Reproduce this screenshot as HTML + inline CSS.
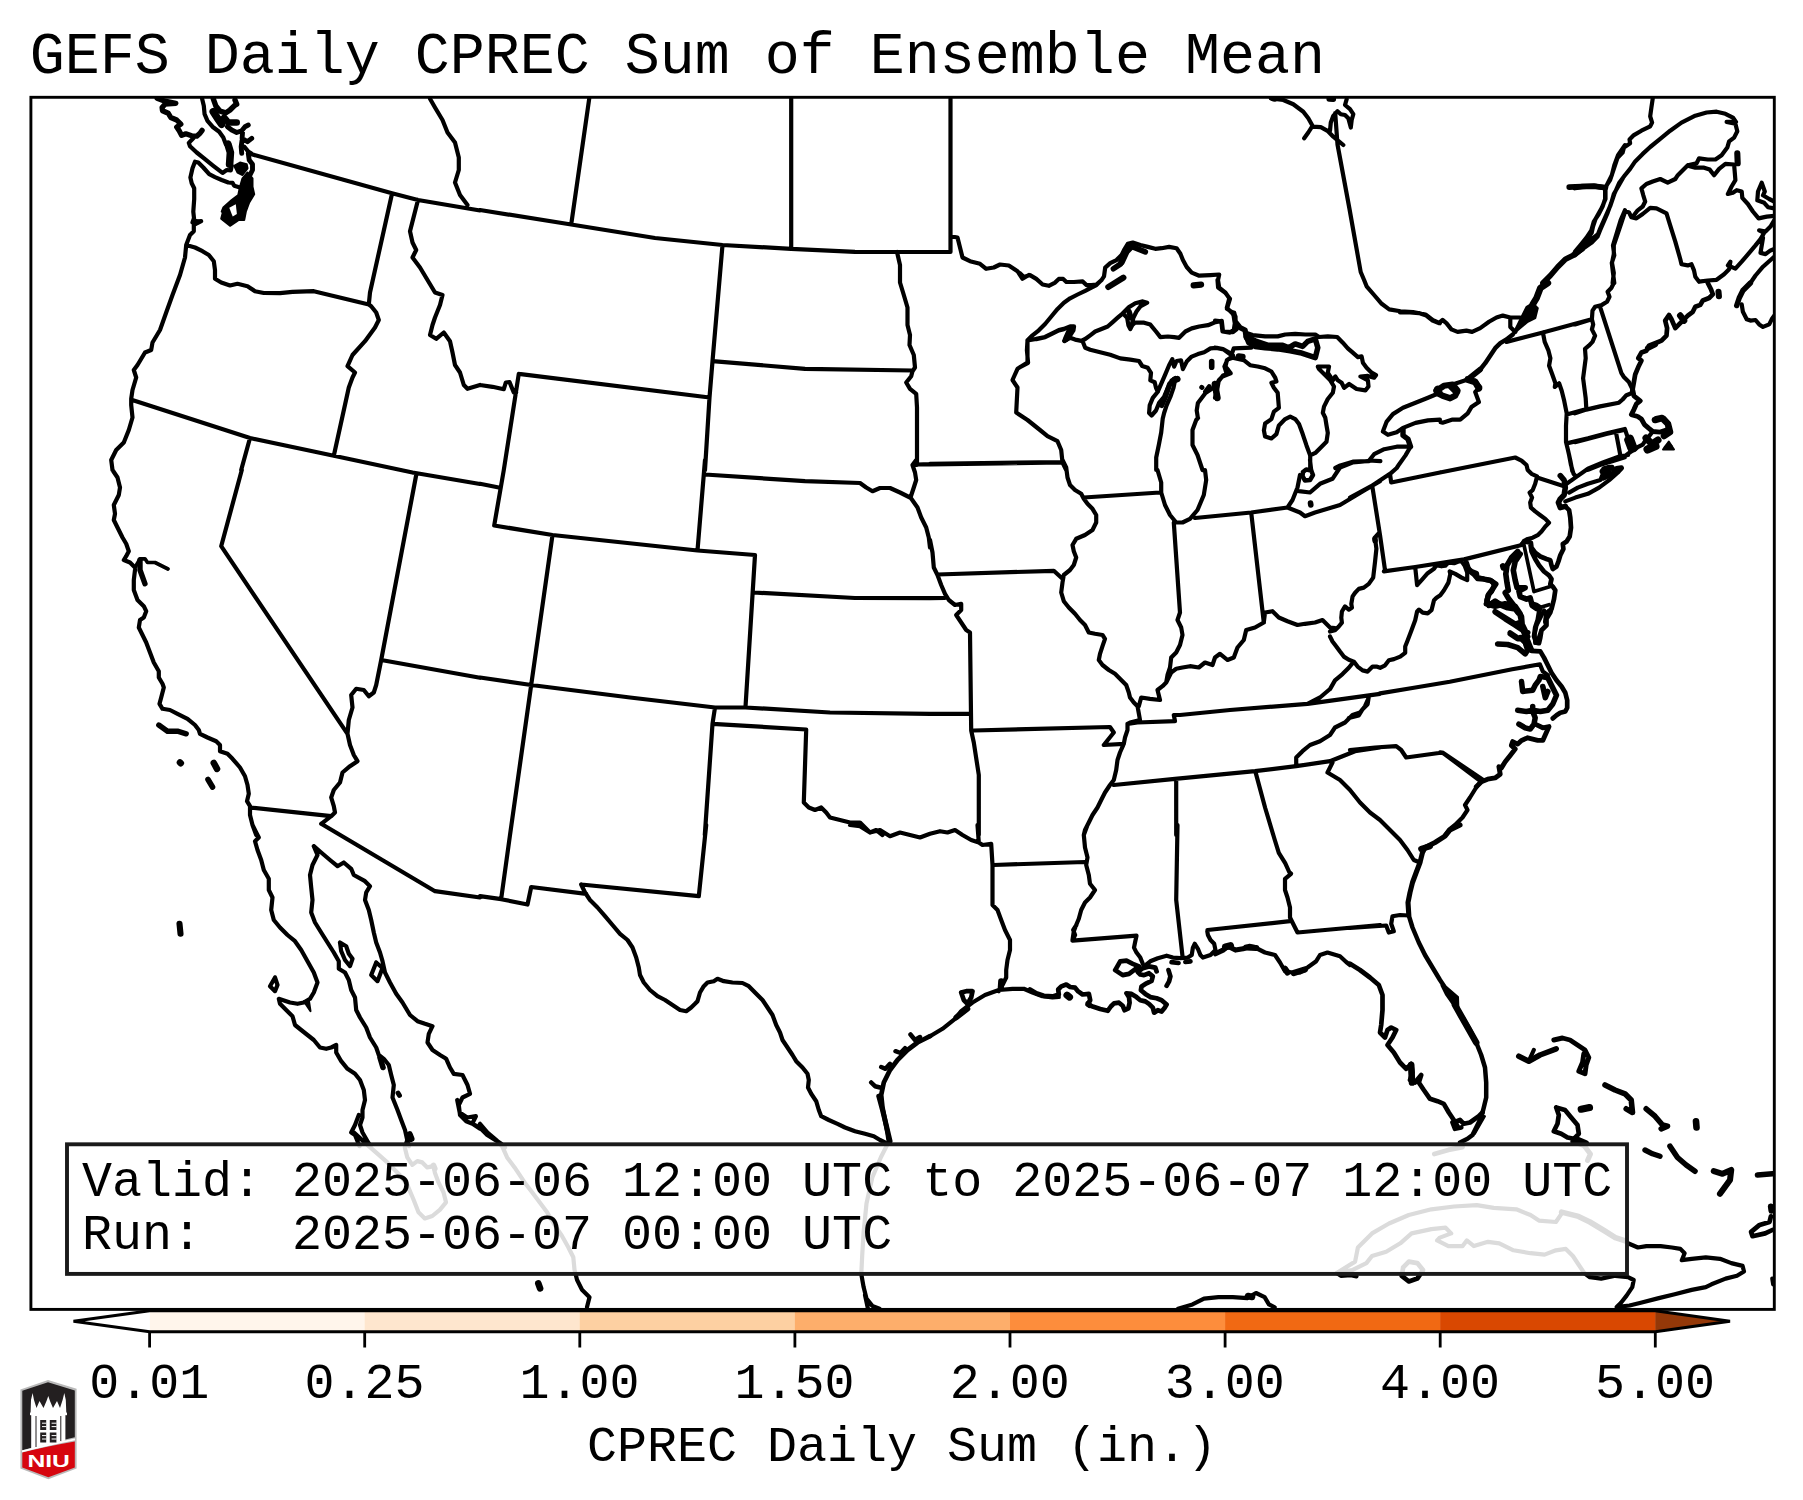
<!DOCTYPE html>
<html><head><meta charset="utf-8"><title>GEFS Daily CPREC Sum of Ensemble Mean</title>
<style>
html,body{margin:0;padding:0;background:#fff;}
body{width:1803px;height:1500px;overflow:hidden;}
svg{display:block}
text{font-family:"Liberation Mono","DejaVu Sans Mono",monospace;fill:#000}
.m{fill:none;stroke:#000;stroke-width:3;stroke-linejoin:round;stroke-linecap:round}
.f{fill:#000;stroke:#000;stroke-width:2;stroke-linejoin:round}
</style></head><body>
<svg width="1803" height="1500" viewBox="0 0 1803 1500">
<rect width="1803" height="1500" fill="#fff"/>
<text x="29.8" y="72.8" font-size="58.33">GEFS Daily CPREC Sum of Ensemble Mean</text>
<defs><clipPath id="mc"><rect x="30" y="97" width="1745" height="1212"/></clipPath></defs>
<g clip-path="url(#mc)">
<path class="f" d="M234.2 165.8L240 162.5L246.7 164.2L247.5 168.3L242.5 175L237.5 172.5Z"/>
<path class="f" d="M247.5 172.5L252.5 178.3L252.5 186.7L254.2 194.2L249.2 202.5L245.8 211.7L244.2 220L223.3 220L228.3 215L221.7 211.7L223.3 207.5L231.7 200L238.3 195L240 186.7L242.5 178.3Z"/>
<path class="f" d="M193 219.5L202 221L193.8 225.5Z"/>
<path class="f" d="M223.8 208.8L221.2 218.8L230 225.8L238.8 220L245 212.5L242.5 195Z"/>
<path class="f" d="M1664.6 447.2L1671.5 445.9L1668.4 443.4Z"/>
<path class="f" d="M1526.6 306.8L1532.8 303.1L1537.8 308.1L1535.3 318.1L1527.8 321.8L1520.3 328.1L1512.8 334.4L1517.8 324.4L1521.6 316.8Z"/>
<path class="f" d="M1663 449.5L1668.8 441.5L1674 449.5Z"/>
<path class="f" d="M303.8 1001.2L308.8 1000L310.5 1011.2Z"/>
<path class="f" d="M1441.5 985.5L1447 987.5L1458 997L1458.5 1011.2L1452.5 1003.8L1446.2 995Z"/>
<path class="f" d="M1480 1115L1485 1116.2L1475 1133.8Z"/>
<path class="m" style="stroke-width:3.7" d="M135 567.5L140 558.8L145 558.8L147.5 562.5L155 562.5L165 567.5L168 569M1524 545.2L1534 591.6L1550.3 586.6M1536.5 608.5L1549 604.7"/>
<path class="m" style="stroke-width:4.2" d="M193.3 138.3L188.8 142.9L190 146.2L196.7 152.5L205 159.2L213.3 165.8L222.5 172.9L226.7 170L230.8 170.4L231.7 165.8M202.1 98.8L203.8 105.8L204.6 114.2L207.5 120.8L212.5 126.7L219.2 131.7L223.3 137.5L225.8 144.2M244.2 146.7L248.3 151.7L251.2 153.3M195 161.7L198.3 162.5L203.3 167.5L209.2 174.2L215 177.1L221.7 180L228.3 182.5L232.5 182.9L234.2 185.8L240 187.5M195 161.7L192.5 168.3L190.4 177.5L191.7 183.3L194.2 188.3L194.2 199.2L193.3 211.7L194.2 220M193.8 218.8L192.5 222.5L201.2 221.2L193.8 225L193.8 231.2L190 235L186.2 245M186.2 245L195 247.5L202.5 251.2L208.8 255L213.8 261.2L215 270L215 278.8L221.2 282.5L230 285.5L237.5 283.8L247.5 286.2L255 291.2L263.8 293L280 293.2L292.5 291.8L313.8 291.2L368.8 304.5M186.2 245L185 257.5L180 275L172.5 295L166.2 312.5L160 330L152.5 342.5L151.2 350L145 352.5L137.5 365L133.8 370L136.2 377.5L132.5 390L131.2 398.8L131.2 405L132.5 417.5L128.8 430L123.8 442.5L116.2 450L111.2 460L112.5 470M133.8 400.5L250 438L333.8 455.8L412.5 472.5M250 438L241.2 470M333.8 455.8L348.8 387.5L352.5 377.5L355 372.5L347.5 366.2L352.5 355L365 341.2L375 327.5L378.8 320L376.2 312.5L371.2 306.2L368.8 304.5L370 292.5L392 193.8M418 200L410 231.2L412.5 242.5L416.2 250L412.5 257.5L420 267.5L427.5 280L435 292.5L442.5 295L440 305L435 317.5L432.5 325L430 335L436.2 338.8L443.8 332.5L450 341.2L452.5 352.5L455 365L460 372.5L463.8 385L467.5 388.8L480 385M250 153.8L392 193.2L418 200L480 210.5M430 98.8L435 107.5L442.5 120L447.5 132.5L455 142.5L458.8 157.5L458.8 170L455 182.5L460 195L467.5 205M480 210L571.2 224.5L655 238L722.5 245L791.2 248.8L855 251.8L930 252M589.2 98.8L571.2 224.5M791.2 98.8L791.2 248M722.5 245L712.5 361.2L709.5 397.5L705 470M712.5 361.2L805 368.8L912.5 370.5M518.8 373.8L709.5 397.5M518.8 373.8L503.8 470M480 385L492.5 386.8L503.8 389.2L505.8 382.5L509.5 382L513.8 392.5L516.2 392.5M897 252L900 265L900 282.5L903.8 295L907.5 307.5L907.5 325L910 335L909.5 345L913.8 355L915 367.5L912.5 371.2L911.2 376.2L906.2 382.5L910 388.8L916.2 393.8L917 407.5L917 465L912.5 465M917 464.5L930 464.2M950.5 98.8L950.5 252L930 252M950.5 236.2L957.5 237.5L960 247.5L962.5 257.5L970 261.2L980 263.8L986.2 268.8L993.8 267.5L1000 264.5L1008.8 265.5L1017.5 271.2L1022.5 278.8L1028.8 275M1027.5 341.2L1027.5 362.5L1017.5 368.8L1012.5 380L1017.5 387.5L1016.2 412.5L1027.5 420L1040 430L1047.5 436.2L1057.5 441.2L1061.2 450L1062.5 462.5L1066.2 470M930 464.5L1061.8 462.5M1020 273.2L1023.8 277L1030 275.1L1036.3 278.9L1042.6 284.5L1048.8 285.8L1055.1 282.6L1058.8 278.9L1063.2 278.9L1066.4 282L1073.9 282L1082.7 281.4L1086.4 285.1L1091.4 285.1L1096.4 284.5L1101.5 280.1M1101.5 280.1L1104 276.4L1105.2 267.6L1110.2 263.2L1116.5 260.1L1121.5 255.1L1124 250.1L1127.8 243.8L1132.8 242.5L1140.3 245L1147.8 246.9L1155.3 248.8L1161.6 248.2L1169.1 246.9L1176.6 248.2L1180.4 253.8L1182.9 260.1L1186.7 267L1191.7 272.6L1199.2 275.7L1210.5 275.1L1219.2 274.5L1218 280.1L1219.2 287.6L1225.5 292.7L1229.3 298.3L1226.8 307.7L1231.8 312.7L1235.5 316.5L1234.9 322.7L1236.8 329L1233 332.1L1223 331.5L1221.8 320.9M1221.8 320.9L1215.5 322.1L1208 325.2L1199.2 326.5L1191.7 328.4L1185.4 331.5L1179.1 337.8L1174.1 337.1L1167.9 336.5L1160.4 337.1L1156 331.5L1150.3 324.6L1144.1 322.7L1135.3 322.5L1132.2 325.2L1130.3 329L1128.4 325.2L1127.1 317.7L1122.8 313.3M1122.8 313.3L1129 307.1L1135.3 303.3L1142.8 301.4L1147.2 302.7L1140.3 306.4L1136.5 311.5L1133.4 317.7L1132.2 322.7M1122.8 313.3L1117.7 317.7L1112.7 322.1L1107.7 326.5L1101.5 329L1095.2 331.5L1090.2 335.3L1085.2 339L1081.4 340.9L1075.1 339.6L1070.1 337.8L1064.5 340.9M1027.5 340.3L1032.5 335.3L1038.8 330.3L1045.1 324L1051.3 316.5L1057.6 308.9L1063.9 302.7L1070.1 298.3L1077.6 294.5L1085.2 290.8L1091.4 287.6L1096.4 285.1L1101.5 280.1M1036.3 339L1027.5 340.3L1026.9 350.3L1028.1 362.8L1020 367.2M1082.7 341.5L1085.2 347.8L1090.2 349.7L1100.2 352.2L1110.2 354.7L1120.3 358.4L1130.3 359.7L1139 361L1142.2 366L1147.8 367.8L1151 372.9L1150.3 380.4L1154.7 382.3L1156 387.9L1157.8 391.7M1157.8 391.7L1152.8 397.9L1149.7 405.4L1149.1 413L1151.6 415.5L1156 410.5L1159.1 402.9L1164.1 396.7L1167.9 387.9L1171.6 380.4L1175.4 377.9M1175.4 378.5L1173.5 387.9L1170.4 396.7L1166.6 405.4L1164.1 413L1162.9 418M1157.8 391.7L1161.6 382.9L1165.4 374.1L1169.1 365.3L1172.3 359.1L1174.1 366.6L1176.6 361L1181 360.3L1182.9 369.1L1186.7 361.6L1191.7 356.6L1197.9 354.1L1204.2 352.2L1210.5 348.4L1216.7 347.8L1223 349L1230.5 353.4L1233 355.3M1230.5 357.8L1226.8 360.3L1225.5 366.6L1228.6 370.4L1230.5 372.9L1223 375.4L1219.2 380.4L1213 387.9L1205.5 392.9L1201.7 397.9L1197.9 402.9L1196.7 410.5L1197.9 418M1217.5 280L1218.1 287.5L1225 292.5L1230 298.8L1226.9 308.8L1233.8 313.2L1235.1 321.4L1233.8 330.1L1230 332.6L1222.5 331.4L1221.3 321.4L1215 320.7M1245.1 332.6L1252.6 335.1L1265.1 336.4L1277.7 336.4L1285.2 334.5L1295.2 333.9L1305.2 334.5L1315.3 334.5L1319 337L1327.8 336.4L1337.2 337L1342.8 342.7L1347.8 348.3L1352.8 352.7L1357.9 357.1L1361.6 356.4L1362.9 362.7L1366.6 367.7L1371.6 372.7L1376 375.2L1374.1 377.7L1367.9 375.9L1360.4 376.5L1367.9 380.3L1368.5 386.5L1365.4 390.3L1356.6 389L1349.1 384L1344.1 387.8L1341.6 382.8L1337.8 380.3L1335.3 376.5L1332.8 380.3L1327.8 372.7L1329 366.5L1317.8 366.5L1319 369L1325.3 375.2L1330.3 380.3L1334 386.5L1332.8 392.8L1327.8 399L1324 406.6L1322.8 412.8L1325.3 417.8L1326.5 425.4L1327.8 432.9L1326.5 441.7L1320.3 447.9L1315.3 452.9L1310.2 455.4M1215 347.7L1223.8 349.5L1231.3 355.2L1233.8 348.3L1251.3 347.7M1232.5 357.7L1227.5 359.6L1224.4 366.5L1226.3 372.7L1230.7 373.4L1222.5 376.5L1218.8 380.3L1217.5 387.8L1215 397.8M1232.5 357.7L1243.8 360.2L1250.1 365.2L1257.6 366.5L1265.1 368.3L1271.4 371.5L1275.2 377.7L1276.4 381.5L1271.4 382.8L1273.9 387.8L1277.7 392.8L1278.3 400.3L1278.9 407.8L1273.9 411.6L1271.4 419.1L1265.1 423.5L1263.9 430.4L1265.1 436.6L1271.4 438.5L1276.4 434.1L1278.9 425.4L1285.2 419.1L1290.2 416.6L1295.2 419.1L1299 424.1L1302.7 434.1L1306.5 445.4L1310.2 455.4L1310.2 468M1364.1 280L1366.6 286.3L1374.1 295L1381.7 303.8L1389.2 309.4L1400.5 311.3L1413 312L1425.5 314.5L1433 320.1L1439.9 323.2M1439.9 392.8L1428 397.8L1415.5 402.8L1403 407.8L1392.9 414.1L1386.7 421.6L1382.9 431.6L1387.9 434.8L1396.7 432.3L1403 427.9L1415.5 422.9L1428 420.4L1439.9 419.7M1410.5 446.7L1396.7 446.7L1384.2 449.2L1374.1 454.2L1369.1 460.5L1380.4 461.1M1369.1 461.1L1352.8 461.7L1340.3 465.5L1335.3 468M1410.5 446.7L1405.5 455.4L1399.2 464.2L1396.7 468L1390.4 473.6M1270.8 98.3L1283.3 100L1293.3 104.2L1303.3 111.7L1308.3 118.3L1312.5 125.8L1308.3 132.5L1304.2 138.3M1312.5 126.7L1320.8 127.1L1327.5 130.8L1333.3 136.7L1338.3 140.8L1343.3 145M1330 130.8L1330.8 122.5L1333.3 115.8L1337.5 111.2L1340.8 114.2L1345 115L1348.3 118.3L1350.8 127.5L1351.7 120L1353.3 114.2L1350 109.2L1345 105L1346.7 99.2M1162.8 418L1161.2 432.5L1158.8 445L1156.2 457.5L1156.2 470M1198 418L1196.2 420L1192.5 430L1192.5 445L1197.5 455L1202.5 470M1335.2 113L1337.5 144.5L1349.5 209L1360.7 272L1364.1 280M1652.7 98.8L1651.4 107.5L1650.2 116.3L1652.1 122.6L1650.2 126.3L1641.4 130.7L1633.9 135.1L1629.5 139.5L1630.1 143.2L1623.9 147.6L1622.6 152.6L1617.6 157.7L1615.1 165.2L1612.6 172.7L1610.1 180.2L1605.1 187.7M1605.1 187.7L1605.1 199L1602.6 206.5L1598.8 214L1593.8 221.6L1591.3 230.3L1586.3 237.9L1581.3 244.1L1575 251.6M1575 255.4L1582.5 249.1L1591.3 242.9L1597.6 236.6L1600.1 230.3L1603.8 221.6L1607.6 212.8L1611.3 202.8L1613.8 194L1618.9 185.2L1623.9 176.5L1630.1 168.9L1635.2 161.4L1642.7 153.9L1650.2 147L1660.2 138.9L1670.2 130.7L1681.5 122.6L1695.3 115.7L1706.6 112.5L1716.6 111.7L1725.4 113.8L1732.9 117.6L1736 121.9L1726.6 121.9L1735.4 123.8L1737.3 131.3L1734.1 137.6L1729.1 141.4L1727.3 147.6L1721.6 155.2L1715.4 159.5L1707.8 159.5L1699.1 158.3L1696.6 163.3L1687.8 165.2M1687.8 165.8L1695.3 167.7L1704.1 167.7L1709.7 169.6L1714.1 175.2L1719.1 168.9L1725.4 163.9L1734.1 164.5M1734.1 164.5L1734.8 172.7L1735.4 180.2L1731.6 186.5L1727.9 194L1732.9 192.7L1736.7 190.2L1741.7 191.5L1742.3 197.8L1747.9 204L1752.9 211.5L1758.6 218.4L1766.7 216.6L1774.2 215.9M1687.8 165.2L1682.8 170.2L1677.8 175.2L1675.3 179L1667.7 182.7L1660.2 179L1652.7 181.5L1646.4 184L1641.4 188.4L1643.3 195.3L1645.2 201.5L1642.7 206.5L1637.7 210.3L1633.9 215.3M1625.1 211.5L1628.9 212.2L1631.4 217.2L1636.4 218.4L1642.7 214L1650.2 207.8L1656.5 208.4L1666.5 213.4L1670.2 225.3L1675.3 241.6L1680.3 259.2L1681.5 264.2L1687.8 265.4L1691.5 264.2L1694 270.4L1695.3 276.7L1699.1 281.7M1625.1 211.5L1621.4 222.8L1617.6 234.1L1613.8 245.4L1613.8 254.1L1612 262.9L1613.8 272.9L1612.6 283M1774.2 208.4L1768 207.2L1764.2 202.8L1757.3 200.3L1758 191.5L1761.7 182.7L1764.8 191.5L1763 195.3L1769.2 199L1774.2 201.5M1699.1 281.7L1707.8 280.5L1716.6 279.8L1724.1 274.2L1729.1 269.2L1730.4 261.7L1727.9 265.4L1735.4 268.6L1741.7 261.7L1749.2 252.9L1755.5 245.4L1760.5 239.1L1764.2 232.8L1759.2 230.3L1765.5 231.6L1770.5 226.6L1774.2 220.3M1763 237.9L1760.5 252.9L1765.5 254.1L1770.5 250.4L1774.2 249.1M1774.2 256.7L1763 266.7L1755.5 275.5L1750.4 283M1613.8 283L1611.3 288L1607.6 291.8L1609.5 296.8L1607 301.8L1601.9 304.9L1595.1 306.8L1592.5 310.6L1591.9 319.3M1575 324.4L1591.9 319.3M1591.9 319.3L1593.2 324.4L1591.9 329.4L1595.1 335.6L1592.5 341.9L1588.8 345.7L1585 348.8L1585.7 358.2L1584.4 368.2L1583.1 378.2L1584.4 388.3L1585.7 398.3L1586.3 408.3M1600.1 306.8L1621.4 373.2L1623.9 377L1628.9 382L1632.6 389.5M1575 413.3L1586.3 409.6L1600.1 406.4L1618.9 402.7L1622.6 399.5L1626.4 395.2L1631.4 393.3L1632.6 389.5M1652.7 431.5L1648.9 436.5L1645.2 440.9L1642.7 444.7L1637.7 447.2L1630.1 452.2L1625.1 455.9L1616.4 458.4L1606.3 462.2L1596.3 466L1587.5 469.7M1575 442.1L1587.5 439L1606.3 434L1625.1 429.6L1627.6 437.1L1630.1 449.7M1616.4 434.6L1620.7 457.2M1741.7 304.3L1742.9 311.8L1746.7 319.3L1750.4 320.6L1755.5 320L1759.2 324.4L1763 326.9L1769.2 324.4L1771.7 319.3L1774.2 315.6M1400 312.4L1410 312.4L1418.8 313.1L1426.3 315.6L1432.6 320.6L1438.8 323.1L1442.6 320L1446.4 323.1L1451.4 329.4L1457.6 331.9L1466.4 330.6L1472.1 331.9L1480.2 328.1L1489 321.8L1496.5 317.5L1502.8 315.6L1510.3 317.5L1520.3 317.5M1510.3 317.5L1510.3 326.9L1515.3 331.9M1467.7 379.5L1460.2 382L1452.6 384.5M1475.2 380.7L1480.2 387L1475.2 392L1478.9 402L1471.4 407.1L1467.7 413.3L1460.2 419.6L1452.6 419.6L1442.6 422.7L1440.7 422.3M1436.3 390.8L1440.1 392.3M1506.5 341.9L1542.9 332.5L1591.7 319.3M1542.9 332.5L1544.7 341.9L1548.5 350.7L1550.4 358.2L1549.1 365.7L1552.3 374.5L1555.4 383.3L1554.8 387L1559.1 383.3L1561.7 390.8L1564.2 400.8L1566.7 413.3L1566 425.9L1566 442.1L1567.9 449.7L1570.4 460.9L1572.3 471M1566.7 414.6L1584.8 409.6M1566.7 443.4L1588 438.4L1606.8 433.4L1624.9 429M1624.9 457.2L1613 460.9L1600.5 464.7L1588 469.7M1624.9 145.1L1618 155.2L1614.3 165.2L1611.8 175.2L1605.5 187.7L1605.5 199L1601.8 207.8L1595.5 219.1L1593 226.6L1591.7 232.8L1585.5 241.6L1580.5 249.1M1624.9 175.2L1619.3 182.7L1614.3 194L1610.5 205.3L1605.5 216.6L1600.5 227.8L1598 234.1L1591.7 239.1L1583 249.1M1624.9 210.3L1620.6 220.3L1616.8 232.8L1613 245.4L1614.3 255.4L1611.8 262.9L1613 272.9L1614.3 283M112.5 470L117.5 477.5L120 487.5L118.8 495L113.8 505L115 513.8L113.8 520L117.5 527.5L122.5 537.5L126.2 543.8L128.8 551.2L126.2 556.2L123.8 560L130 562.5L135 567.5M135 570L133.8 580L133.8 590L137.5 600L143.8 606.2L146.2 611.2L143.8 617.5L140 620L138.8 627.5L142.5 635L146.2 642.5L150 652.5L153.8 662.5L158.8 671.2L158.8 677.5L162.5 683.8L163.8 687.5L161.2 697.5L159.5 703.8L162.5 708.8L170 710L177.5 713.8L187.5 718.8L195 725L198.8 730L200 733.8L207.5 737.5L216.2 741.2L220 745L220 751.2L227.5 753.8L232.5 758.8L240 767.5L245 776.2L247.5 785L248.8 793.8L247 801.2L250 806.2L250 815L252.5 825L256.2 835M241.8 470L221.2 546.2L347.5 733.8M416.2 475L381.2 660L376.2 685L373.8 692.5L368.8 696.2L363.8 690L356.2 688.8L351.2 695L352.5 707.5L348.8 720L347.5 733.8L350 745L353.8 755L357.5 761.2L350 766.2L342.5 772.5L340 782.5L333.8 790L331.2 797.5L333.8 806.2L335 812.5L331.2 816.2M250 807.5L331.2 816.2L321.2 823.8M412.5 472.5L480 484M381.2 660L480 677.8M503.8 470L494.2 525.5L552.5 535L697.5 550.5L755 555L745.5 706.8M480 483.8L498.8 487.5M552.5 535L531.2 685L510 835M705 460L697.5 550.5M705 474.5L805 481.2L860 483L866.2 487.5L872.5 491.2L880 488L890 488L900 492.5L910 497.5M916.2 460L912.5 465L915 472.5L916.2 480L913.8 487.5L910.5 497.5L917.5 507.5L921.2 517.5L926.2 527.5L928.8 537.5L930 547.5M753.8 592.5L855 598L930 598.2M480 677.5L531.2 685L630 697.5L715 707.5L745.5 707.5L830 712.5L930 713.8M715 707.5L712.5 723.8L704.8 835M712.5 723.8L806.2 729.5L803.8 802.5L808.8 807.5L815 810L821.2 807.5L826.2 812.5L830 817.5L840 820L850 822.5L860 822.5L865 827.5L870 832.5L876.2 830L882.5 835M1062.5 460L1066.2 467.5L1067.5 477.5L1070 485L1075 490L1081.2 493.8L1083.8 498.8L1087.5 503.8L1092.5 508.8L1096.2 515L1096.2 522.5L1092.5 530L1085 535L1076.2 538.8L1072.5 545L1073.8 551.2L1076.2 557.5L1073.8 565L1070 570L1063.8 575L1062.5 582.5L1061.2 592.5L1063.8 601.2L1068.8 607.5L1075 613.8L1080 620L1085 625L1088.8 632.5L1095 633.8L1102.5 635L1105 638.8L1102.5 646.2L1100 653.8L1098.8 660L1102.5 665L1108.8 670L1115 673.8L1121.2 680L1126.2 685L1128.8 692.5L1130 697.5L1133.8 702.5L1137.5 706.2L1140 720L1130 722.5L1127.5 723.8L1127.5 730L1125 737.5L1123.8 743.8L1120 752.5L1117.5 760L1116.2 770L1113.8 780L1110 785L1105 792.5L1101.2 800L1097.5 807.5L1092.5 815L1088.8 822.5L1085 830L1083.8 835M1083.8 497.5L1160 492.5M1157.5 470L1161.2 482.5L1161.2 492.5L1165 505L1170 515L1176.2 522.5L1182.5 522.5L1190 518.8L1197.5 510L1203.8 495L1206.2 480L1205 470M1173.8 522.5L1180 612.5L1177.5 620L1181.2 627.5L1182.5 635L1180 645L1176.2 652.5L1171.2 657.5L1170 667.5L1167.5 675L1166.2 682.5M1195 518L1251.2 512.5L1287.5 507.5M1251.2 512.5L1263.8 622.5M1263.8 622.5L1255 627.5L1246.2 630L1243.8 640L1237.5 647.5L1233.8 657.5L1227.5 660L1220 653.8L1215 657.5L1212.5 665L1205 662.5L1198.8 667.5L1190 666.2L1182.5 667.5L1176.2 668.8L1171.2 672.5L1166.2 682.5L1162.5 686.2L1157.5 690L1160 700L1150 698.8L1141.2 697.5L1138.8 706.2M1263.8 622.5L1265 612.5L1272.5 611.2L1278.8 617.5L1287.5 621.2L1297.5 625L1305 623.8L1315 622.5L1322.5 620L1330 627.5L1335 628M1372.5 487.5L1380 535M1287.5 507.5L1292.5 500L1297.5 487.5L1300 475M1310 460L1311.2 470M1287.5 507.5L1300 512.5L1305 516.2L1315 512.5L1327.5 508.8L1340 505L1352.5 497.5L1365 490L1380 481.2M1298.8 491.2L1310 492.5L1320 483.8L1332.5 478.8L1340 467.5L1352.5 462.5L1367.5 461.2M1330 689L1320 697.5L1307.5 703.8M1127.5 723.8L1137.5 722.5L1175 721.2L1173.8 715L1180 715L1230 710L1307.5 703.8L1380 693.8M1368.8 697.5L1365 706.2L1360 712.5L1352.5 715L1345 722.5L1335 727.5L1330 735L1320 741.2L1310 745L1302.5 751.2L1296.2 757.5L1296.2 766.2M1113.8 785L1175 778.8L1255 771.2L1296.2 766.2L1330 761.2L1342.5 756.2L1355 751.2L1380 747.5M1176.2 778.8L1176.2 835M1255.6 772.4L1265.2 808L1274.8 840L1278.8 852.8L1285.2 863.2L1289.2 872L1291 873.6M1332.5 762.5L1327.5 772.5L1340 780L1350 790L1360 802.5L1370 812.5L1380 820M973.8 730.5L1110 727L1113.8 732.5L1108.8 738.8L1103.8 745L1123.8 743.8M930 540L932.5 552.5L933.8 567.5L937.5 575L941.2 585L945 593.8L948.8 600L955 605L961.2 603.8L961.2 610L956.2 615L961.2 622.5L966.2 630L970 632.5L971.2 730.5L973.8 742.5L978.8 775L978.8 835M937.5 574.5L1053.8 570.8L1062.5 578.8M930 713.8L970 713.8M930 598.2L945 598M930 463.8L1062.5 462M1440 472.5L1477.6 465L1515.2 457.5L1521.5 460.6L1526.5 465L1527.7 470L1531.5 473.8L1537.1 476.3L1535.2 483.8L1532.7 490.1L1529.6 492.6L1532.1 497.6L1530.2 502.6L1530.9 507.6L1535.2 511.4L1540.3 515.2L1545.3 518.9L1549 522.7L1545.3 526.4L1541.5 531.4L1537.7 535.2L1532.7 537.7L1527.7 539L1524 540.8L1522.1 544M1537.1 477.6L1564.1 486.3M1569.1 455L1571 465L1573.5 473.8L1575.3 475.7M1566.6 483.8L1575.3 477.6L1587.9 468.8L1602.9 462.5L1617.9 456.9L1628 455M1565.3 501.4L1575.3 497.6L1587.9 493.8L1599.1 487.6L1609.2 480.1L1617.9 472.5L1621.7 468.2L1615.4 470L1607.9 467.5L1602.9 473.8L1600.4 480.1L1587.9 483.8L1577.8 487.6L1569.1 492.6M1544 610.4L1540.3 617.9L1536.5 625.4L1534.6 634.2L1535.2 643M1540.3 665.2L1542.8 671.4L1547.8 675.2M1440 752.3L1443.8 753.5L1481.4 781.7M1383.9 571.4L1415.2 567L1464.1 559.4L1521.7 545M1375.1 538.8L1376.4 548.8L1375.1 561.3L1373.9 571.4L1373.2 577.6L1368.8 583.9L1363.8 587.6L1358.8 588.9L1355.1 592.7L1352.6 596.4L1351.3 603.9L1351.9 607.7L1348.8 609.6L1345 606.4L1341.9 611.5L1341.3 617.7L1341.9 622.7L1338.8 626.5L1335 630.3L1330 631.5M1330 636.5L1332.5 641.5L1336.3 646.5L1340 651.6L1343.8 656.6L1348.8 659.7L1353.8 661.6L1348.8 667.8L1342.5 674.1L1335 680.4L1330 689.1M1353.8 661.6L1357.6 666.6L1362.6 670.4L1367.6 671.6L1372.6 666.6L1376.4 666.6L1380.1 667.8L1385.1 665.3L1388.9 660.3L1393.9 659.1L1400.2 656.6L1405.2 652.8L1405.2 646.5L1407.7 640.3L1411.5 630.3L1415.2 620.2L1417.1 611.5L1419 609.6L1422.7 612.7L1427.7 613.3L1431.5 610.2L1434 600.2L1436.5 597.7L1440.3 595.2L1444 590.2L1448.4 582.6L1450.3 573.9L1449.7 571.4L1455.3 573.9L1461.6 577.6L1467.2 580.1L1467.2 572.6L1464.7 565.7L1461.6 561.3M1415.2 567L1417.1 585.1L1422.7 578.9L1427.7 573.2L1434 568.8L1436.5 565.1L1441.5 566.3L1445.3 565.7L1448.4 562.6L1454.1 563.2L1459.1 561.3L1461.6 561.3M1368.8 696.7L1367.6 704.2L1362.6 709.2L1358.8 715.5L1353.8 716.7L1348.8 718M1350 497.5L1371.2 486.2L1390 473.8L1391.2 482.5L1440 472.5M1372.5 487.5L1380 535L1385 570M1375.2 541.2L1375 537.5L1379.5 532.5M1350 750L1375 747.5L1396.2 746.2L1401.2 750L1406.2 757.5L1442.5 752.5L1482.5 779.5L1476.2 787.5L1470 797.5L1465 805L1467.5 810L1462.5 817.5L1455 825L1448.8 830L1445 835M1380 820L1387.5 827.5L1395 835M1380 693.4L1412.4 688L1449.8 681.8L1487.3 674.3L1512.2 669.3L1540 664.3M252.5 825L256.2 832.5L258.8 837.5L255 841.2L257.5 850L261.2 860L263.8 870L268.8 878.8L268.8 890L272.5 897.5L271.2 910L273.8 920L280 927.5L287.5 935L295 941.2L301.2 950L307.5 961.2L313.8 972.5L317.5 982.5L313.8 992.5L310 998.8L303.8 1002.5L297.5 1003.8L290 1002.5L282.5 1000L278.8 998.8L280 1003.8L286.2 1010L292.5 1016.2L295 1025L301.2 1030L307.5 1035L313.8 1040L320 1047.5L326.2 1048.8L331.2 1047.5L336.2 1045L336.2 1052.5L341.2 1061.2L347.5 1068.8L355 1073.8L360 1080L363.8 1090L365 1100L362.5 1110L362.5 1117.5L360 1125L362.5 1132.5L367.5 1141.2L370.5 1146.2M358.8 1115L355 1125L351.2 1132.5L355 1135L357.5 1141.2L359.5 1146.2M313.8 846.2L317.5 855L312.5 865L310 875L311.2 887.5L312.5 900L311.2 912.5L315 922.5L321.2 932.5L327.5 942.5L333.8 952.5L338.8 961.2L338.8 968.8L345 972.5L348.8 980L351.2 990L355 997.5L356.2 1010L360 1017.5L366.2 1027.5L370 1037.5L376.2 1047.5L378.8 1055L383.8 1058.8L388.8 1065L391.2 1075L393.8 1085L392.5 1097.5L397.5 1110L401.2 1120L405 1130L407.5 1141.2L409 1146.2M313.8 846.2L321.2 852.5L330 860L337.5 866.2L343.8 862.5L351.2 868.8L353.8 875L365 881.2L370 886.2L366.2 892.5L365 900L368.8 910L371.2 920L373.8 932.5L376.2 942.5L380 952.5L382.5 961.2L385 972.5L390 982.5L396.2 993.8L402.5 1002.5L410 1015L417.5 1021.2L425 1023.8L432.5 1026.2L428.8 1033.8L427.5 1042.5L432.5 1050L440 1055L446.2 1058.8L450 1067.5L453.8 1073.8L462.5 1075L467.5 1085L470 1093.8L462.5 1097.5L458.8 1105L460 1115L466.2 1121.2L472.5 1123.8L480 1128.8M376.2 962.5L382.5 968L377.5 981.2L371.2 975L376.2 962.5M340 942.5L346.2 946.2L348.8 953.8L352.5 958.8L350 966.2L345 960L341.2 951.2L340 942.5M275 977.5L277.5 985L275 991.2L270 986.2L275 977.5M321.2 823.8L435 891.2L480 897.5M510 835L501.2 898.8M480 896.2L501.2 899.2L527.5 904.5L531.2 887L586.2 893.8M581.2 884.5L698.8 896.2L706.2 825M581.2 884.5L585 892.5L590 900L597.5 907.5L605 916.2L612.5 925L620 933.8L627.5 940L632.5 947.5L636.2 957.5L638.8 967.5L640 975L643.8 982.5L650 990L657.5 996.2L665 1000L672.5 1005L680 1010L686.2 1011.2L691.2 1007.5L695 1003.8L697.5 1001.2L700 992.5L703.8 986.2L707.5 982.5L713.8 981.2L717.5 978.8L723.8 981.2L732.5 982.5L742.5 983L748.8 986.2L755 992.5L762.5 1000L767.5 1007.5L772.5 1015L776.2 1025L780 1032.5L782.5 1040L787.5 1047.5L792.5 1055L796.2 1061.2L802.5 1067.5L807.5 1073.8L808.8 1080L808 1087.5L811.2 1093.8L816.2 1101.2L818.8 1110L821.2 1116.2L828.8 1120L837.5 1123.8L845 1127.5L855 1131.2L865 1133.8L873.8 1136.2L880 1140L885 1142.5M850 825L860 826.2L870 832.5L880 830L890 836.2L900 832.5L910 835L920 837.5L930 833.8M480 1123.8L487.5 1132.5L497.5 1141.2L501.2 1143.8L505 1147.5M930 833.8L940 831.2L947.5 832.5L955 830L962.5 835L971.2 840L978.8 842.5L982.5 845L991.2 843.8L992.5 865L992.5 905L997.5 910L1001.2 920L1005 930L1010 940L1010 950L1007.5 960L1006.2 970L1006.2 977.5L1002.5 985L998.8 991.2M977.5 825L978.8 842.5M993.8 865L1085 862M1087.5 825L1083.8 835L1085 847.5L1087.5 857.5L1086.2 865L1088.8 875L1090 883.8L1095 890L1090 897.5L1085 902.5L1081.2 910L1078.8 918.8L1076.2 925L1073.8 931.2L1072.5 940M1177.5 825L1176.2 900L1182.5 956.2M1291 873.8L1285 878.8L1285 890L1287.5 897.5L1290 907.5L1290 917.5L1297.5 932.5L1380 925M1290 921.2L1207.5 930M930 1036.2L942.5 1028.8L955 1018.8L961.2 1011.2L972.5 1002.5L985 995L998.8 990L1012.5 988.8L1023.8 988.8L1032.5 992.5L1042.5 996.2L1052.5 997.5L1058.8 997M1076.4 925L1073.2 930L1075.1 935L1072.6 940.7L1136.5 935.7L1135.3 941.3L1134 947.6L1136.5 952.6L1140.3 957.6L1142.8 963.8L1144 966.4M1144 966.4L1150.3 961.3L1157.8 958.2L1166.6 955.7L1172.9 957.6L1180.4 958.2L1187.9 957.6L1191.7 955.1L1192.9 947.6L1194.8 943.8L1197.9 948.8L1200.4 955.1L1202.9 957.6L1210.5 955.1L1215.5 950.1L1214.2 943.8L1210.5 940L1207.9 935L1207.3 931.3M1255 947.5L1265 952.5L1275 955L1280 962.5L1285 971.2L1292.5 972.5L1300 972.5L1307.5 967.5L1316.2 961.2L1320 955L1327.5 952.5L1340 956.2L1346.2 962L1350 965M1395 835L1400 840L1407.5 850L1413.8 860L1420 862.5M1350 928L1386.2 925.5L1388.8 932.5L1393.8 931.2L1391.2 923.8L1392.5 916.2L1400 915L1408.8 915.5M1528.8 1061.2L1533.8 1050M353.7 1132.4L367.4 1144.9L377.4 1153.7L387.3 1162.4L399.8 1174.9L407.3 1184.9L413.6 1199.8L418.5 1212.3L424.8 1218.5L432.3 1216L439.8 1209.8L446 1202.3L443.5 1192.3L438.5 1182.4L434.8 1172.4L433.5 1166.1L427.3 1167.4L422.3 1162.4L417.3 1161.1L412.3 1164.9L407.3 1157.4L404.8 1147.4L407.3 1139.9L409.8 1134.9M457.2 1100L459.7 1112.5L467.2 1117.5L475.9 1116.2L472.2 1123.7L479.7 1127.5L487.2 1134.9L497.2 1141.2L502.1 1146.2L507.1 1157.4L514.6 1167.4L519.6 1174.9L524.6 1182.4L532.1 1192.3L539.6 1202.3L547.1 1212.3L554.6 1224.8L562 1236L568.3 1247.2L573.3 1257.2L574.5 1269.7L577 1279.7L582 1289.7L589.5 1297.2L587 1307.1M1336.7 1273L1355.1 1261.6L1357.9 1247.5L1372 1233.4L1389 1223.5L1408.8 1215L1431.4 1209.3L1454.1 1206.5L1476.7 1205.1L1493.7 1207.9L1516.3 1209.3L1530.5 1215L1538.9 1220.6L1555.9 1222L1561.6 1213.6M1623.8 1240.4L1628 1243.3L1637.9 1247.5L1646.4 1246.1L1660.6 1246.1L1671.9 1247.5L1680.4 1248.9L1684.6 1253.2L1681.8 1260.2L1691.7 1258.8L1705.8 1257.4L1720 1258.8L1731.3 1263.1L1742.6 1265.9L1744 1271.5L1737 1275.8L1725.6 1278.6L1711.5 1284.3L1705.8 1287.1L1691.7 1289.9L1674.7 1294.2L1657.8 1298.4L1640.8 1302.7L1629.5 1305.5L1618.1 1306.9M1336.7 1273L1352.2 1270.1L1366.4 1263.1L1372 1256L1386.2 1251.7L1400.3 1243.3L1411.6 1233.4L1431.4 1229.1L1445.6 1227.7L1451.2 1233.4L1439.9 1237.6L1437.1 1240.4L1448.4 1246.1L1462.6 1246.1L1466.8 1240.4L1473.9 1246.1L1488 1241.8L1499.3 1243.3L1513.5 1250.3L1530.5 1253.2L1544.6 1254.6L1555.9 1250.3L1565.8 1248.9L1572.9 1256L1578.5 1264.5L1584.2 1273L1589.9 1277.2L1601.2 1278.6L1615.3 1275.8L1628 1277.2L1633.7 1280L1632.3 1287.1L1626.6 1295.6L1621 1302.7L1616.7 1306.9M1336.7 1273L1340.9 1275.8L1350.8 1275.2L1356.5 1276.4M1772.3 1278.6L1773.2 1284.3M888.2 1142.9L880.9 1157.3L872.3 1177.5L866.5 1203.5L863.6 1232.3L862.2 1255.4L861.3 1274.1L863.6 1287.1L866.5 1298.6L872.3 1305.9L879.5 1308.7M865 1295L868 1309M1178 1308.7L1192.5 1304.4L1204 1298.6L1218.4 1297.2L1232.8 1297.2L1247.3 1298.1L1256 1293L1264.6 1297.2L1268.9 1304.4L1274.7 1307.3"/>
<path class="m" style="stroke-width:4.5" d="M1036.3 339L1045.1 337.1L1053.8 332.8L1058.8 330.3L1063.9 329L1070.1 326.5L1073.9 326.5L1073.3 330.3L1070.1 335.3L1066.4 339.6L1064.5 340.9M1512.8 334.4L1506.5 339.4L1500.3 343.2L1495.2 348.2L1490.2 355.7L1485.2 363.2L1480.2 369.5M1303 472L1306.2 469.5L1311.2 470.5L1313 475L1310 480L1305 480.5L1302.5 476.2L1303 472M871.2 1082.5L875 1086.2L880 1087.5M881.2 1067L885.5 1068.8L890 1063.8M895.5 1051.2L900.5 1053L905 1048.2M910.5 1034.5L915 1040L920 1037M1408.8 915.5L1412.5 927.5L1418.8 942.5L1425 955L1432.5 967.5L1440 980L1447.5 991.2L1455 1005L1462.5 1017.5L1470 1030L1476.2 1042.5L1481.2 1055L1485 1067.5L1486.2 1082.5L1486.2 1097.5L1483.8 1107.5L1481.2 1117.5L1476.2 1127.5L1472.5 1135L1467.5 1138.8L1460 1142.5"/>
<path class="m" style="stroke-width:4.7" d="M1632.6 389.5L1633.9 382L1635.2 374.5L1638.9 365.7L1641.4 360.7L1638.3 358.2L1641.4 352.5L1646.4 350.7L1648.9 345.7L1655.2 343.2L1661.5 340.6L1666.5 335.6L1667.1 328.1L1665.2 320.6L1669 315L1671.5 319.3L1675.3 328.1L1679 324.4L1682.8 320.6L1687.8 315.6L1692.8 311.8L1695.3 306.8L1700.3 304.9L1702.8 300.5L1709.1 298L1712.8 294.3L1711 289.3L1707.8 283M1565.3 506.4L1569.1 510.1L1570.3 517.7L1571 527.7L1569.7 536.5L1566.6 541.5L1562.8 544L1563.4 549L1560.3 555.3L1558.4 561.5L1556.5 566.5L1552.8 569L1551.5 565.3L1550.3 560.3L1546.5 559L1540.3 556.5L1535.2 552.7L1531.5 547.7L1530.9 542.7L1527.7 541.5M1522.1 544L1525.2 541.5L1530.2 542.7L1531.5 551.5L1535.2 559L1539 565.3L1544 571.5L1549 575.3L1551.5 579.1L1550.3 584.1L1552.8 586.6L1555.3 590.3L1554 599.1L1551.5 609.1L1546.5 612.9L1545.3 621.7L1546.5 625.4L1541.5 630.4L1539 638L1537.7 643M1552.8 603.8L1550.3 612.5L1546.5 618.8L1546.5 625.1L1541.5 630.1L1540.3 637.6L1539 643.2L1536.5 642.6L1534 636.3L1535.2 627.6L1537.7 620.1L1539 612.5L1540.3 607.5L1536.5 605L1532.7 603.8M1531.5 650.8L1540.3 651.4L1544 657.6L1547.8 665.2L1551.5 672.7L1556.5 680.2L1561.6 686.5L1565.3 692.7L1567.2 700.3L1567.2 707.8L1565.3 711.5L1560.3 712.8L1556.5 715.3L1552.8 718.4M888.8 1141.2L887.5 1132.5L885 1120L882.5 1107.5L881.2 1095L883.8 1082.5L890 1070L897.5 1060L907.5 1050L917.5 1042.5L930 1036.2M961.2 992.5L963.8 1000L967.5 1003.8L971.2 997.5L972.5 991.2L966.2 991.2L961.2 992.5M1030 989.5L1036.3 993.3L1043.8 995.8L1052.6 996.4L1058.8 994.5L1058.2 989.5L1061.3 986.4L1066.3 984.5L1070.1 987L1075.1 987.7L1078.2 991.4L1082.6 994.5L1088.9 993.9L1090.2 1000.2L1087.6 1004.6L1092.7 1006.5L1100.2 1009L1107.7 1010.8L1110.8 1006.5L1114 1003.3L1119 1002.7L1122.7 1005.8L1124.6 1010.2L1128.4 1008.3L1129.6 1002.7L1129 997.1L1126.5 993.3L1131.5 993.9L1136.5 997.1L1140.3 1000.2L1145.3 1001.4L1149 1003.9L1152.8 1007.7L1154.1 1012.7L1157.8 1010.2L1161.6 1011.5L1164.7 1007.7L1166.6 1004.6L1161.6 1000.2L1156.6 998.3L1150.3 997.1L1145.3 993.9L1140.9 990.2L1141.5 986.4L1146.5 983.3L1151.6 980.8L1152.8 976.4L1149 973.2L1144 975.1L1140.3 974.5L1137.8 972L1142.8 968.2L1149 966.4L1155.3 967.6L1156.6 971.4M1115.2 970.1L1120.2 961.3L1126.5 960.7L1132.8 963.8L1139 966.4L1134 970.1L1129 973.9L1122.7 975.1L1115.2 970.1M1168.5 970.1L1170.4 976.4L1169.1 981.4L1166.6 985.8M1171.6 962.2L1178.5 963M1185.4 962L1190.4 961.3M1350 963.8L1360 970L1370 977.5L1378.8 985L1382.5 995L1382.5 1010L1381.2 1025L1380 1032.5L1385 1037.5L1387.5 1030L1391.2 1027.5L1396.2 1030L1392.5 1037.5L1387.5 1045L1393.8 1052.5L1400 1062.5L1406.2 1068.8L1411.2 1063.8L1412.5 1072.5L1410 1080L1415 1082.5L1421.2 1075L1418.8 1082.5L1423.8 1090L1430 1098.8L1437.5 1101.2L1443.8 1103.8L1448.8 1112.5L1453.8 1120L1457.5 1126.2L1453.8 1122.5L1460 1120L1463.8 1123.8L1470 1122.5L1478.8 1116.2L1482.5 1112.5M1452.5 1122.5L1455 1128.8L1461.2 1127.5M1556.2 1107.5L1565 1110L1571.2 1117.5L1577.5 1125L1578.8 1133.8L1573.8 1138.8L1567.5 1137.5L1561.2 1133.8L1553.8 1131.2L1557.5 1123.8L1558.8 1115L1556.2 1107.5M1403.2 1267.3L1408.8 1261.6L1417.3 1263.1L1423 1270.1L1417.3 1278.6L1408.8 1281.4L1401.7 1275.8L1403.2 1267.3M1770.9 1216.4L1769.5 1222L1759.6 1224.9L1751.1 1231.9L1752.5 1236.2L1765.2 1233.4L1772.3 1230M1434.3 1154.1L1448.4 1149.9L1462.6 1147.1"/>
<path class="m" style="stroke-width:4.9" d="M227.5 126.7L231.7 130L236.7 132.5L241.7 130.8L245 126.7L248.3 125M242.5 132.5L242.1 138.3L247.5 141.7L251.7 138.3M242.1 140L241.2 146.7L241.7 153.3M248.3 153.3L249.2 160L252.5 164.2L252.5 170L250 175L247.5 178.3M1201.7 387.3L1202 387.5M1209.2 386.6L1205.5 391.7M1632.6 389.5L1633.9 395.8L1640.2 400.8L1636.4 403.9L1633.9 409.6L1631.4 414.6L1637.7 416.5L1641.4 419L1644.5 424.6L1648.9 428.4L1652.7 431.5L1660.2 432.1L1667.7 429.6L1668.4 423.4L1664 418.3L1656.5 418.3M1603.8 468.7L1610.1 467.2M1616.4 468.5L1621.4 467.8M1535.2 724.1L1542.8 727.8L1549 726.6L1542.8 740.4L1537.7 740.4L1527.7 737.8L1521.5 740.4L1517.7 744.1L1512.7 741.6L1511.4 745.4L1515.2 749.1L1510.2 755.4L1505.2 761.7L1501.4 767.9L1498.9 766.7L1500.2 774.2L1495.1 777.9L1487.6 779.2L1481.4 781.7L1476.3 786.7M1467.2 567.6L1471.6 571.4L1476.6 573.2L1477.2 577L1485.4 579.5L1491.7 580.8L1494.2 585.1L1491.7 591.4L1487.9 595.2L1486.6 601.4L1490.4 603.9L1495.4 601.4L1500.4 603.9L1506.7 606.4L1514.2 607.7L1518 611.5M398 1093L399.5 1095.5M1553.8 1040L1562.5 1038L1570 1040L1577.5 1045L1585 1050L1588.8 1057.5L1586.2 1065L1585 1073.8L1578.8 1071.2L1582.5 1062.5L1583.8 1053.8"/>
<path class="m" style="stroke-width:5.1" d="M890 1141.2L886.2 1125L882.5 1110L878.8 1096.2M1215.5 953.8L1223 950.1L1228 946.3L1235.5 950.1L1243 948.8L1249.3 946.3L1254.9 947.6M1460 825L1450 830L1445 836.2L1435 842.5L1425 847.5L1422.5 852.5L1420 862.5L1416.2 872.5L1412.5 882.5L1410 892.5L1408 902.5L1408.8 915M1572.9 1141.4L1584.2 1145.7L1590.4 1154.1L1587.6 1160.4"/>
<path class="m" style="stroke-width:5.3" d="M157.1 98.3L165 101.2L175.8 103.3L165 104.2L162.1 107.5L162.5 110.8L168.3 113.3L170.8 117.5L176.7 120L180.8 124.2L176.7 127.1L179.2 130.8L181.7 135.4L185.8 133.8L191.7 135.8L196.7 136.2L200 133.3L202.1 130.4"/>
<path class="m" style="stroke-width:5.4" d="M213.3 98.8L215.8 105.8L220 111.2L225.8 112.9L230 110L234.2 105.8L236.7 104.2L235 100M1169.7 384.1L1165.4 396.7L1161.6 405.4M1233.8 313.2L1235.1 321.4L1240.1 327.6L1245.1 330.1L1246.3 337.6L1251.3 342.7M1403 429.1L1403 435.4L1408 439.1L1410.5 446.7M1605.1 187.7L1593.8 185.9L1582.5 186.5L1575 187.7M1750.4 283L1742.9 290.5L1739.2 298L1736.7 305.6M140 560L140 570L145 583.8M158.8 725L167.5 731.2L177.5 731.2L186.2 733.8M1645 1150L1652.5 1153.8L1660 1156.2"/>
<path class="m" style="stroke-width:5.5" d="M1246.3 336.4L1256.4 341.4L1267.6 345.2L1282.7 345.2L1288.9 347.7L1295.2 343.9L1302.7 346.4L1307.7 341.4L1315.3 338.9L1317.8 347.7L1315.3 357.7L1307.7 355.2L1300.2 352.7L1290.2 350.8L1277.7 348.9L1265.1 347.7L1255.1 346.4L1248.8 342.7L1246.3 336.4M1603 478L1611 474.5L1620 469M1603 472L1607 469L1612 467.5M1466.3 562.8L1468.8 570.3L1473.8 574L1477.6 578.4L1483.9 579.1L1490.1 580.3L1495.8 584.1L1492.6 589.1L1488.9 594.1L1487 600.4L1488.9 605.4L1495.1 601L1501.4 605.4L1507.7 607.9L1515.2 609.1L1518.3 612.9M1495.1 611.6L1505.2 617.9L1515.2 624.2L1521.5 621.7L1520.2 615.4M1521.5 622.9L1525.2 630.4L1527.7 636.7M1510.2 632.9L1517.7 638L1525.2 640.5L1527.7 636.7M1495.1 611.9L1505.2 618.8L1515.2 625.1L1522.7 630.1L1521.5 616.3M1510.2 633.8L1517.7 638.8L1525.2 636.3L1527.7 632.6M1497.6 643.9L1507.7 644.5L1517.7 647.6L1525.2 653.9L1527.7 650.1L1525.2 642.6L1520.2 637.6M1522.7 630.1L1526.5 637.6L1529 643.9L1531.5 650.1M1521.5 681.5L1522.7 691.5L1532.7 690.2L1535.2 685.2L1539 680.2L1540.3 676.4L1547.8 677.7L1551.5 685.2L1556.5 695.2L1552.8 704L1547.8 710.3L1540.3 711.5L1532.7 710.3L1526.5 711.5L1517.7 710.3M1532.7 706.5L1532.7 711.5L1535.2 717.8L1534 724.1L1530.2 729.1L1525.2 727.8L1518.9 724.1"/>
<path class="m" style="stroke-width:5.6" d="M1129 311.5L1130.9 317.7M1070.1 329L1065.7 339M1113.4 268.8L1120.3 264.1M1131.5 246.3L1145.3 251.9M1211.7 361.6L1211.7 367.2M1273.3 98.8L1275 99M1329.2 99L1333.3 99.2M1647.7 348.2L1655.2 344.4M1480.2 369.5L1473.9 374.5L1467.7 379.5M1605.5 187.7L1595.5 186.5L1581.7 186.5L1569.2 187.1M1581.7 249.1L1572.9 255.4L1565.4 259.2L1557.9 266.7L1550.4 275.5L1542.9 283M208 779.5L212.5 787M1310.5 503L1310.8 505M1560.3 475.7L1564.1 480.1L1565.3 487.6L1564.1 495.1L1560.3 498.9L1558.4 502.6L1560.3 507.6L1565.3 506.4M1517.7 551.5L1511.4 557.8L1507 565.3L1505.8 574L1507 582.8L1508.3 590.3L1505.2 592.8L1508.9 599.1L1513.9 605.4L1517.7 611.6M1520.2 554L1515.2 561.5L1513.3 570.3L1515.2 580.3L1517.1 587.8L1525.2 587.8L1518.9 591L1520.2 596.6L1526.5 599.1L1530.2 597.9L1532.1 605.4L1536.5 608.5M1502.7 565.9L1503.3 567.8M1486.4 603.8L1495.1 606.3L1505.2 603.8L1515.2 606.3L1520.2 613.8M1542.8 686.5L1545.3 697.7L1547.8 691.5M1374.9 538.8L1375.1 540.7M380 1057.5L383 1067.5M956.2 1017.5L967.5 1008.8M1088.3 1003.3L1089.5 1005.2M1518.8 1056.2L1528.8 1061.2L1540 1055L1556.2 1048.8M1605 1085L1615 1090L1625 1093.8L1631.2 1100L1632.5 1112.5L1626.2 1108.8M1576.2 1138.8L1586.2 1143M1646.2 1108.8L1655 1116.2L1662.5 1125L1667.5 1126.2L1661.2 1128.8M1670 1146.2L1677.5 1157.5L1686.2 1165L1695 1171.2M1757.5 1175L1772.5 1173.8M433.5 1165.4L434.8 1168.6M1561.6 1212.1L1578.5 1216.4L1589.9 1222L1604 1230.5L1615.3 1237.6L1623.8 1240.4"/>
<path class="m" style="stroke-width:6.1" d="M1108.3 287L1123.4 277.6M1193.6 285.4L1201.1 284.6M1238.8 356.4L1242.6 356.7M1737.3 153.3L1737.7 163.3M1718.5 291.8L1718.9 296.2M1647.1 449L1655.2 445.3M179.5 923.8L180.5 933.8M1001.2 981.2L1000.8 987.5M1246.2 947.5L1256.2 948M1293.8 973L1305 969.5M1285 968.8L1287.5 972.5M1421.2 848.8L1430 846.2M1713.8 1171.2L1722.5 1173.8L1731.2 1170L1730 1180L1720 1193.8M1770.9 1206.5L1771.5 1210.7"/>
<path class="m" style="stroke-width:6.2" d="M1436.3 390.8L1443.9 385.8L1452.6 384.5L1457.6 390.8L1455.1 395.8L1450.1 398.3L1442.6 395.8L1437.6 393.3L1436.3 390.8"/>
<path class="m" style="stroke-width:6.6" d="M224.2 117.5L228.3 122.5L236.7 122.5M1174.8 379.7L1177.3 379.1M1121.5 262L1126.5 251.3L1130.3 247.5M1214.9 384.1L1217.4 397.9M1437.4 389L1439.3 392.8M1680.3 315.6L1684 320.6M1547.9 283L1540.4 288L1536.6 298L1532.8 304.3M1467.7 379.5L1475.2 382L1478.9 388.3M1451.4 387L1456.4 392M1655 420L1662 418L1668 424L1670 432L1664 436M180 762.5L180.8 763.2M213.8 763L217 768.8M1602.9 471.3L1609.2 473.8M409.5 1134.5L411.2 1138.8M1455 1005L1476.2 1042.5M1411.2 1065L1412 1082.5M1696 1121.2L1696.5 1127.5M538.3 1283.4L540.1 1288.4M1248 1296L1252 1297"/>
<path class="m" style="stroke-width:7.1" d="M1646 438L1652 444L1658 440M1067 995.2L1069.5 997.1M1225.5 946.9L1230.5 945.7M1581.2 1109.2L1589.5 1107.5"/>
<path class="m" style="stroke-width:7.6" d="M227.9 144.2L230.4 152.5L229.6 164.2M213.3 111.7L217.5 118.3L221.7 124.2M1630.1 438.4L1633.9 448.4M1628 440L1631 448"/>
<path class="m" style="stroke-width:8.1" d="M1647.5 449.5L1655.5 446"/>
<path d="M229.3 207.7L235.8 204.3L236.9 214L232.7 216.5Z" fill="#fff"/>
</g>
<!-- info box -->
<rect x="67" y="1144.3" width="1560" height="129.6" fill="#fff" fill-opacity="0.86" stroke="#1a1a1a" stroke-width="3.9"/>
<text x="82" y="1196" font-size="50">Valid: 2025-06-06 12:00 UTC to 2025-06-07 12:00 UTC</text>
<text x="82" y="1249.2" font-size="50" xml:space="preserve" style="white-space:pre">Run:   2025-06-07 00:00 UTC</text>
<!-- colorbar -->
<g>
<rect x="149.6" y="1310" width="215.6" height="22" fill="#fff5eb"/>
<rect x="364.7" y="1310" width="215.6" height="22" fill="#fee6ce"/>
<rect x="579.8" y="1310" width="215.6" height="22" fill="#fdd0a2"/>
<rect x="794.9" y="1310" width="215.6" height="22" fill="#fdae6b"/>
<rect x="1010.0" y="1310" width="215.6" height="22" fill="#fd8d3c"/>
<rect x="1225.1" y="1310" width="215.6" height="22" fill="#f16913"/>
<rect x="1440.2" y="1310" width="215.6" height="22" fill="#d94801"/>
<path d="M1655.3 1310L1730 1321.3L1655.3 1332Z" fill="#943808"/>
<path d="M149.6 1310L73.5 1321.3L149.6 1332Z" fill="#fff"/>
<path d="M149.6 1310.8L73.5 1321.3L149.6 1331.8L1655.3 1331.8L1730 1321.3L1655.3 1310.8Z" fill="none" stroke="#000" stroke-width="3" stroke-linejoin="miter"/>
<path d="M149.6 1333V1347.5M364.7 1333V1347.5M579.8 1333V1347.5M794.9 1333V1347.5M1010.0 1333V1347.5M1225.1 1333V1347.5M1440.2 1333V1347.5M1655.3 1333V1347.5" stroke="#000" stroke-width="2.8" fill="none"/>
</g>
<!-- frame -->
<rect x="30.9" y="97.3" width="1743.4" height="1212.1" fill="none" stroke="#000" stroke-width="2.9"/>
<g font-size="50" text-anchor="middle">
<text x="149.3" y="1397.6">0.01</text><text x="364.4" y="1397.6">0.25</text><text x="579.5" y="1397.6">1.00</text><text x="794.6" y="1397.6">1.50</text><text x="1009.7" y="1397.6">2.00</text><text x="1224.8" y="1397.6">3.00</text><text x="1439.9" y="1397.6">4.00</text><text x="1655.0" y="1397.6">5.00</text>
</g>
<text x="902" y="1461" font-size="50" text-anchor="middle">CPREC Daily Sum (in.)</text>
<!-- NIU logo -->
<g id="logo">
<path d="M48 1380L76.6 1388.8V1468.6L48.3 1479.2L20.4 1468.6V1389.4Z" fill="#b9b9b9"/>
<path d="M48 1382.2L74.8 1390.4V1437.3Q46 1444 22.3 1450.2V1390.8Z" fill="#231f20"/>
<path d="M22.3 1452.6Q46 1446.6 74.8 1441.6V1467.4L48.3 1477.2L22.3 1467.4Z" fill="#d6060f"/>
<path d="M22 1451.4Q46 1445.2 75 1439.4" stroke="#fff" stroke-width="1.8" fill="none"/>
<path d="M30.6 1413L31 1400L32.6 1393L34 1400L36.5 1408L39.5 1401L43.5 1408L46.5 1401L48.3 1396L50 1401L53 1408L57 1401L60 1408L62.6 1400L64.3 1393L65.8 1400L66.3 1413Z" fill="#fff"/>
<rect x="30" y="1412.6" width="37" height="2.6" fill="#fff"/>
<path d="M31.2 1415H65.4V1440.4L31.2 1448.6Z" fill="#fff"/>
<path d="M36 1416V1447M60.8 1416V1441" stroke="#231f20" stroke-width="1" fill="none"/>
<path d="M40.2 1420h6v10h-6zM49.8 1420h6.6v10h-6.6zM40.2 1432.4h6v10h-6zM49.8 1432.4h6.6v10h-6.6z" fill="#231f20"/>
<path d="M42 1423.2h4.4M42 1426.6h4.4M51.6 1423.2h5M51.6 1426.6h5M42 1435.6h4.4M42 1439h4.4M51.6 1435.6h5M51.6 1439h5" stroke="#fff" stroke-width="1" fill="none"/>
<text x="48.7" y="1467.4" font-size="16" font-weight="bold" text-anchor="middle" textLength="42.5" lengthAdjust="spacingAndGlyphs" style="font-family:'Liberation Sans','DejaVu Sans',sans-serif;fill:#fff">NIU</text>
</g>
</svg>
</body></html>
